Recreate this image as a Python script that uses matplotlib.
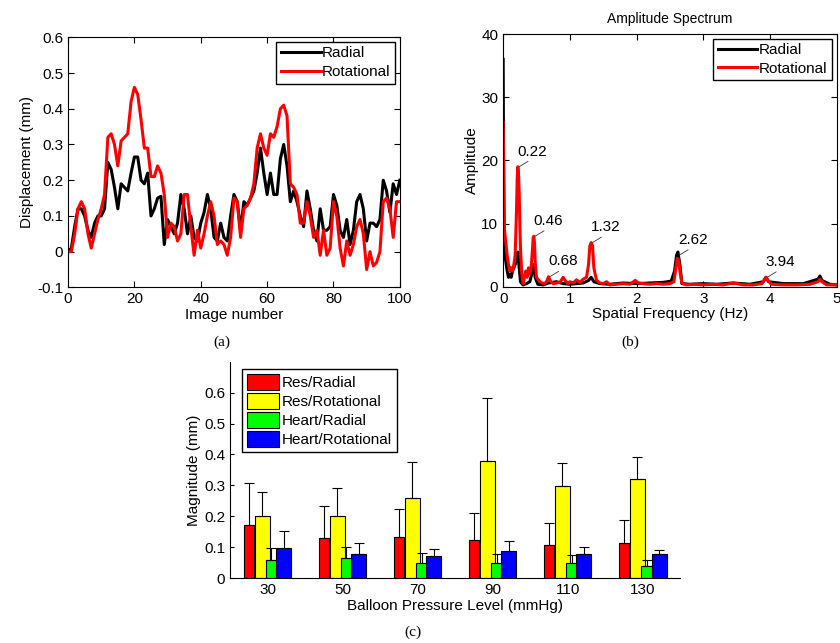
import matplotlib
matplotlib.use('Agg')
import matplotlib.pyplot as plt
import numpy as np

plt.rcParams['font.family'] = ['Liberation Sans', 'DejaVu Sans']

# panel (a): displacement per image
image_no = list(range(101))
radial = [0.00, 0.01, 0.07, 0.12, 0.12, 0.10, 0.06, 0.04, 0.08, 0.10,
          0.10, 0.12, 0.25, 0.23, 0.18, 0.12, 0.19, 0.18, 0.17, 0.22,
          0.265, 0.265, 0.20, 0.19, 0.22, 0.10, 0.12, 0.15, 0.155, 0.02,
          0.09, 0.07, 0.05, 0.08, 0.16, 0.12, 0.05, 0.10, 0.04, 0.03,
          0.08, 0.11, 0.16, 0.12, 0.04, 0.03, 0.08, 0.04, 0.03, 0.10,
          0.16, 0.14, 0.06, 0.14, 0.13, 0.15, 0.17, 0.22, 0.29, 0.22,
          0.16, 0.22, 0.16, 0.16, 0.26, 0.30, 0.24, 0.14, 0.17, 0.14,
          0.10, 0.07, 0.17, 0.12, 0.06, 0.03, 0.12, 0.06, 0.06, 0.07,
          0.16, 0.13, 0.06, 0.04, 0.09, 0.02, 0.06, 0.14, 0.16, 0.12,
          0.03, 0.08, 0.08, 0.07, 0.09, 0.20, 0.17, 0.11, 0.19, 0.16, 0.20]
rotational = [0.00, 0.00, 0.05, 0.12, 0.14, 0.12, 0.05, 0.01, 0.05, 0.09,
              0.12, 0.16, 0.32, 0.33, 0.30, 0.24, 0.31, 0.32, 0.33, 0.42,
              0.46, 0.44, 0.37, 0.29, 0.29, 0.21, 0.21, 0.24, 0.22, 0.16,
              0.04, 0.08, 0.07, 0.03, 0.05, 0.16, 0.16, 0.07, -0.01, 0.06,
              0.01, 0.05, 0.10, 0.14, 0.10, 0.02, 0.03, 0.02, -0.01, 0.04,
              0.15, 0.14, 0.04, 0.12, 0.13, 0.15, 0.19, 0.29, 0.33, 0.29,
              0.27, 0.33, 0.32, 0.35, 0.40, 0.41, 0.38, 0.19, 0.18, 0.16,
              0.08, 0.08, 0.14, 0.10, 0.04, 0.06, -0.01, 0.06, -0.01, 0.01,
              0.14, 0.10, 0.01, -0.04, 0.03, -0.01, 0.02, 0.07, 0.09, 0.05,
              -0.05, 0.00, -0.04, -0.03, 0.00, 0.14, 0.15, 0.12, 0.04, 0.14, 0.14]
a_yticks = [-0.1, 0, 0.1, 0.2, 0.3, 0.4, 0.5, 0.6]
a_yticklabels = ['-0.1', '0', '0.1', '0.2', '0.3', '0.4', '0.5', '0.6']

# panel (b): amplitude spectrum
freq_rot = [0.00, 0.01, 0.02, 0.03, 0.04, 0.06, 0.08, 0.10, 0.12, 0.14, 0.16,
            0.18, 0.20, 0.21, 0.22, 0.23, 0.24, 0.25, 0.26, 0.28, 0.30, 0.32, 0.34, 0.36,
            0.38, 0.40, 0.42, 0.44, 0.45, 0.46, 0.47, 0.48, 0.50, 0.52, 0.55, 0.58,
            0.62, 0.65, 0.68, 0.71, 0.75, 0.80, 0.85, 0.90, 0.93, 0.97,
            1.00, 1.05, 1.10, 1.15, 1.20, 1.25, 1.28, 1.30, 1.32, 1.34,
            1.36, 1.40, 1.45, 1.50, 1.55, 1.60, 1.70, 1.80, 1.90, 1.98,
            2.03, 2.10, 2.20, 2.30, 2.40, 2.50, 2.56, 2.59, 2.61, 2.63, 2.65,
            2.68, 2.75, 2.85, 3.00, 3.15, 3.30, 3.45, 3.60, 3.75, 3.88,
            3.92, 3.94, 3.97, 4.02, 4.20, 4.40, 4.60, 4.72, 4.75, 4.78,
            4.85, 5.00]
amp_rot = [26, 18, 9, 8, 7, 5, 3.5, 2.5, 3, 2.5, 3.5,
           5, 12, 17, 19, 18, 15, 10, 6, 2, 0.5, 1.5, 2.5, 1.5,
           3, 2, 3, 6, 7.8, 8, 7, 4, 1.5, 1.2, 0.8, 0.6,
           0.5, 0.8, 1.6, 0.9, 0.5, 0.6, 0.7, 1.5, 1.0, 0.5,
           0.8, 0.6, 1.1, 0.7, 1.2, 1.5, 3.5, 6.5, 7, 6.5,
           3, 1.0, 0.6, 0.5, 0.8, 0.3, 0.4, 0.5, 0.4, 1.0,
           0.6, 0.5, 0.4, 0.5, 0.4, 0.5, 0.8, 3, 4.5, 4.2, 2.5,
           0.6, 0.3, 0.4, 0.3, 0.4, 0.3, 0.6, 0.3, 0.3, 0.5,
           1.2, 1.5, 1.0, 0.4, 0.3, 0.3, 0.4, 0.8, 1.2, 0.8,
           0.3, 0.3]
freq_rad = [0.00, 0.01, 0.02, 0.04, 0.06, 0.08, 0.10, 0.12, 0.14, 0.16,
            0.18, 0.20, 0.22, 0.24, 0.26, 0.28, 0.30, 0.35, 0.40, 0.44,
            0.46, 0.48, 0.52, 0.60, 0.68, 0.80, 0.90, 1.00, 1.10, 1.20,
            1.28, 1.32, 1.36, 1.45, 1.60, 1.80, 2.00, 2.20, 2.40, 2.52,
            2.57, 2.60, 2.62, 2.65, 2.68, 2.80, 3.00, 3.20, 3.45, 3.70,
            3.90, 3.94, 3.98, 4.20, 4.50, 4.72, 4.75, 4.78, 4.90, 5.00]
amp_rad = [36, 9, 5, 4, 2.5, 1.5, 2, 1.5, 2.5, 3,
           3.5, 4.5, 5.5, 3, 0.8, 0.5, 0.3, 0.5, 0.8, 2.5,
           3.5, 1.5, 0.4, 0.3, 0.6, 0.8, 0.5, 0.4, 0.5, 0.6,
           1.0, 1.5, 0.8, 0.5, 0.4, 0.6, 0.5, 0.6, 0.7, 0.9,
           2.5, 5, 5.5, 3.5, 0.5, 0.4, 0.5, 0.4, 0.6, 0.4,
           0.8, 1.5, 0.8, 0.5, 0.5, 1.2, 1.7, 1.0, 0.4, 0.3]
peak_freqs = [0.22, 0.46, 0.68, 1.32, 2.62, 3.94]
peak_amps = [19, 8, 1.6, 7, 5.0, 1.5]
peak_labels = ['0.22', '0.46', '0.68', '1.32', '2.62', '3.94']

# panel (c): magnitude by balloon pressure
pressures = ['30', '50', '70', '90', '110', '130']
res_radial = [0.172, 0.129, 0.132, 0.124, 0.107, 0.113]
res_radial_err = [0.137, 0.104, 0.091, 0.086, 0.072, 0.076]
res_rot = [0.201, 0.201, 0.259, 0.380, 0.298, 0.321]
res_rot_err = [0.077, 0.091, 0.116, 0.202, 0.074, 0.071]
heart_radial = [0.059, 0.066, 0.050, 0.050, 0.050, 0.041]
heart_radial_err = [0.039, 0.034, 0.033, 0.029, 0.026, 0.019]
heart_rot = [0.099, 0.079, 0.072, 0.089, 0.080, 0.080]
heart_rot_err = [0.053, 0.034, 0.024, 0.033, 0.020, 0.012]

fig = plt.figure(figsize=(8.4, 6.43), dpi=100)

def matlab_box(ax):
    ax.tick_params(direction='in', top=True, right=True, labelsize=11, length=4)
    for s in ax.spines.values():
        s.set_linewidth(0.8)

# (a)
ax1 = fig.add_axes([0.081, 0.553, 0.395, 0.389])
ax1.plot(image_no, radial, c='black', lw=2.2, label='Radial')
ax1.plot(image_no, rotational, c='red', lw=2.2, label='Rotational')
ax1.set_xlim(0, 100)
ax1.set_ylim(-0.1, 0.6)
ax1.set_xticks([0, 20, 40, 60, 80, 100])
ax1.set_yticks(a_yticks)
ax1.set_yticklabels(a_yticklabels)
ax1.set_xlabel('Image number', fontsize=11, labelpad=1)
ax1.set_ylabel('Displacement (mm)', fontsize=11, labelpad=2)
matlab_box(ax1)
ax1.legend(loc='upper right', fontsize=11, handlelength=2.6, fancybox=False,
           edgecolor='black', framealpha=1, borderpad=0.3, labelspacing=0.3,
           handletextpad=0.1, borderaxespad=0.3)

# (b)
ax2 = fig.add_axes([0.599, 0.554, 0.397, 0.393])
ax2.plot(freq_rad, amp_rad, c='black', lw=2.2, label='Radial')
ax2.plot(freq_rot, amp_rot, c='red', lw=2.2, label='Rotational')
for f, a, t in zip(peak_freqs, peak_amps, peak_labels):
    ax2.annotate(t, xy=(f + 0.02, a), xytext=(f, a + 1.3), fontsize=11,
                 ha='left', va='bottom',
                 arrowprops=dict(arrowstyle='-', color='#333333', lw=0.6,
                                 shrinkA=0, shrinkB=0,
                                 relpos=(0.5, 0)))
ax2.set_xlim(0, 5)
ax2.set_ylim(0, 40)
ax2.set_xticks([0, 1, 2, 3, 4, 5])
ax2.set_yticks([0, 10, 20, 30, 40])
ax2.set_xlabel('Spatial Frequency (Hz)', fontsize=11, labelpad=1)
ax2.set_ylabel('Amplitude', fontsize=11, labelpad=2)
ax2.set_title('Amplitude Spectrum', fontsize=10, pad=8)
matlab_box(ax2)
ax2.legend(loc='upper right', fontsize=11, handlelength=2.6, fancybox=False,
           edgecolor='black', framealpha=1, borderpad=0.3, labelspacing=0.3,
           handletextpad=0.1, borderaxespad=0.3)

# (c)
ax3 = fig.add_axes([0.274, 0.1006, 0.536, 0.337])
x = np.arange(1, len(pressures) + 1)
series = [(res_radial, res_radial_err, 'red', -0.25, 0.14, 'Res/Radial'),
          (res_rot, res_rot_err, 'yellow', -0.075, 0.2, 'Res/Rotational'),
          (heart_radial, heart_radial_err, '#00ff00', 0.05, 0.14, 'Heart/Radial'),
          (heart_rot, heart_rot_err, 'blue', 0.215, 0.2, 'Heart/Rotational')]
for vals, errs, col, off, w, lab in series:
    ax3.bar(x + off, vals, width=w, color=col, edgecolor='black', lw=0.8, label=lab)
    ax3.errorbar(x + off, vals, yerr=[np.zeros(len(vals)), errs], fmt='none',
                 ecolor='black', elinewidth=0.8, capsize=3.5, capthick=0.8)
ax3.set_xlim(0.5, 6.5)
ax3.set_ylim(0, 0.7)
ax3.set_xticks(x)
ax3.set_xticklabels(pressures)
ax3.set_yticks([0, 0.1, 0.2, 0.3, 0.4, 0.5, 0.6])
ax3.set_yticklabels(['0', '0.1', '0.2', '0.3', '0.4', '0.5', '0.6'])
ax3.spines['top'].set_visible(False)
ax3.spines['right'].set_visible(False)
ax3.tick_params(direction='in', labelsize=11, length=3)
ax3.tick_params(axis='x', length=0)
ax3.set_xlabel('Balloon Pressure Level (mmHg)', fontsize=11, labelpad=1)
ax3.set_ylabel('Magnitude (mm)', fontsize=11, labelpad=2)
ax3.legend(loc='upper left', fontsize=11, handlelength=2.1, handleheight=1.3,
           fancybox=False, edgecolor='black', framealpha=1, borderpad=0.3,
           labelspacing=0.15, handletextpad=0.2, borderaxespad=0.5,
           bbox_to_anchor=(0.01, 1.0))

# captions
fig.text(0.264, 0.468, '(a)', family='Liberation Serif', fontsize=11, ha='center', va='center')
fig.text(0.75, 0.468, '(b)', family='Liberation Serif', fontsize=11, ha='center', va='center')
fig.text(0.492, 0.017, '(c)', family='Liberation Serif', fontsize=11, ha='center', va='center')

fig.savefig('out.png', dpi=100)
